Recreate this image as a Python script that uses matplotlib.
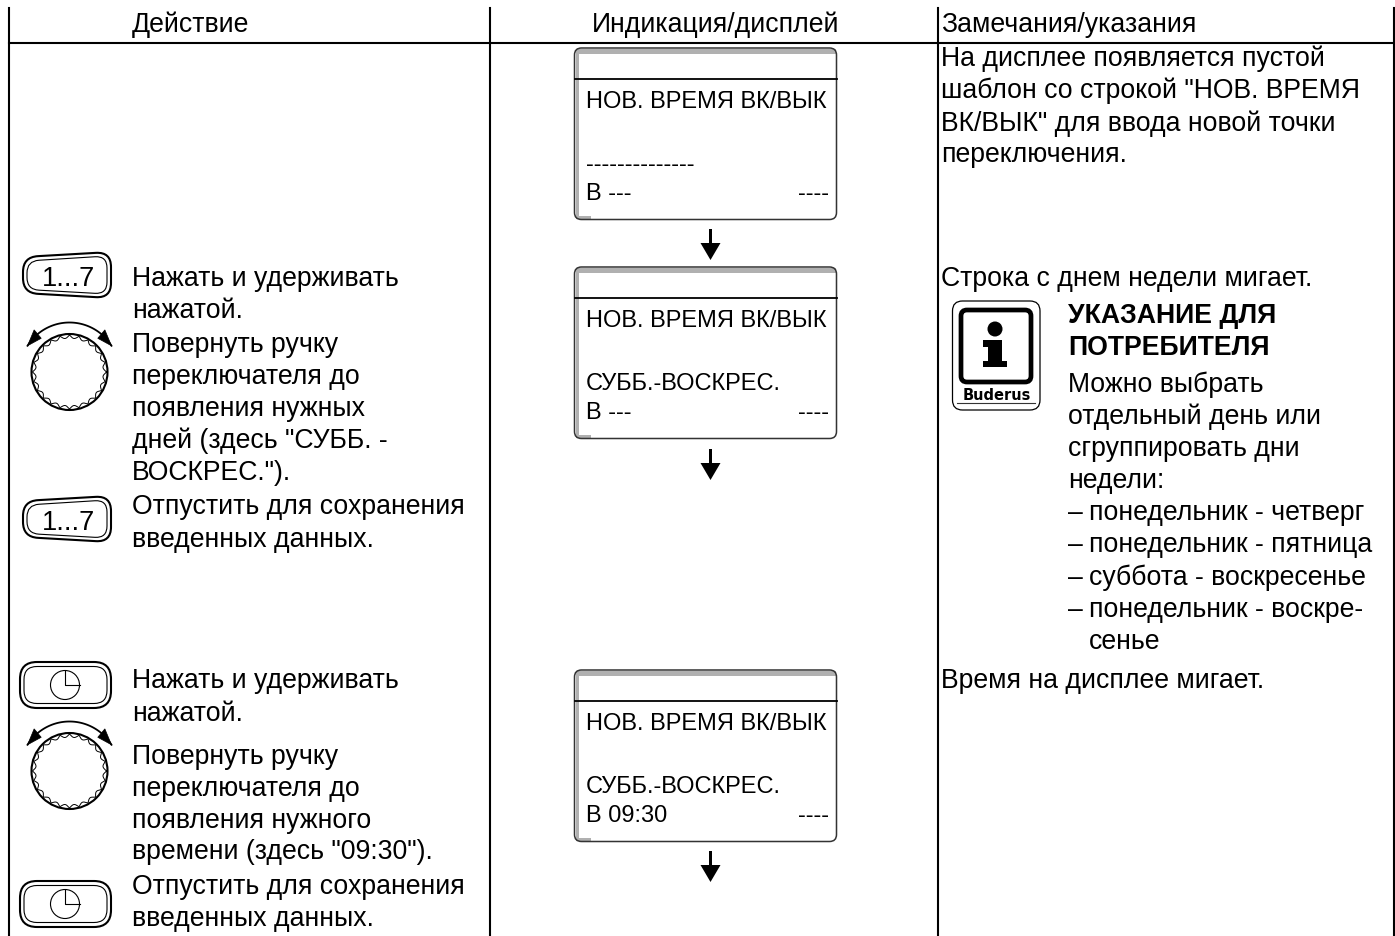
import matplotlib.pyplot as plt
from matplotlib.patches import FancyBboxPatch, Circle, Rectangle, Polygon, PathPatch
from matplotlib.path import Path
import numpy as np

plt.rcParams['font.family'] = ['Liberation Sans', 'DejaVu Sans']

headers = ['Действие', 'Индикация/дисплей', 'Замечания/указания']

action_lines = ['Нажать и удерживать', 'нажатой.', 'Повернуть ручку', 'переключателя до',
                'появления нужных', 'дней (здесь "СУББ. -', 'ВОСКРЕС.").',
                'Отпустить для сохранения', 'введенных данных.',
                'Нажать и удерживать', 'нажатой.', 'Повернуть ручку', 'переключателя до',
                'появления нужного', 'времени (здесь "09:30").',
                'Отпустить для сохранения', 'введенных данных.']
action_y = [286, 318, 352, 384, 416, 448, 480, 514, 547,
            688, 721, 764, 796, 828, 859, 894, 926]

note_lines = ['На дисплее появляется пустой', 'шаблон со строкой "НОВ. ВРЕМЯ',
              'ВК/ВЫК" для ввода новой точки', 'переключения.',
              'Строка с днем недели мигает.', 'Время на дисплее мигает.']
note_y = [66, 98, 131, 162, 286, 688]

tip_head = ['УКАЗАНИЕ ДЛЯ', 'ПОТРЕБИТЕЛЯ']
tip_head_y = [323, 355]
tip_lines = ['Можно выбрать', 'отдельный день или', 'сгруппировать дни', 'недели:']
tip_y = [392, 424, 456, 488]
tip_list = ['понедельник - четверг', 'понедельник - пятница', 'суббота - воскресенье',
            'понедельник - воскре-', 'сенье']
tip_list_y = [520, 552, 585, 617, 649]
tip_dash = [True, True, True, True, False]

display_top = [48, 267, 670]
display_title = 'НОВ. ВРЕМЯ ВК/ВЫК'
display_mid = ['--------------', 'СУББ.-ВОСКРЕС.', 'СУББ.-ВОСКРЕС.']
display_left = ['В ---', 'В ---', 'В 09:30']
display_right = ['----', '----', '----']

arrow_top = [229, 449, 851]
key_17_y = [275, 519]
key_clock_y = [685, 904]
knob_y = [372, 771]

FS = 19.2
FS_DISPLAY = 17
fig = plt.figure(figsize=(13.95, 9.36), dpi=100)
ax = fig.add_axes([0, 0, 1, 1])
ax.set_xlim(0, 1395)
ax.set_ylim(936, 0)
ax.axis('off')

# table rules
ax.plot([8.5, 1393.5], [42.5, 42.5], color='k', lw=1.5)
for x in [8.5, 489.5, 937.5, 1393.5]:
    ax.plot([x, x], [8, 936], color='k', lw=1.5)

ax.text(132, 32, headers[0], fontsize=FS)
ax.text(592, 32, headers[1], fontsize=FS)
ax.text(941, 32, headers[2], fontsize=FS)


def rounded_poly(pts, r, lw):
    # closed outline with rounded corners
    pts = np.array(pts, dtype=float)
    verts, codes = [], []
    n = len(pts)
    for i in range(n):
        p, a, b = pts[i], pts[i - 1], pts[(i + 1) % n]
        s = p + (a - p) / np.linalg.norm(a - p) * r
        e = p + (b - p) / np.linalg.norm(b - p) * r
        verts += [s, p, e]
        codes += [Path.MOVETO if i == 0 else Path.LINETO, Path.CURVE3, Path.CURVE3]
    verts.append(verts[0])
    codes.append(Path.CLOSEPOLY)
    ax.add_patch(PathPatch(Path(verts, codes), fc='none', ec='k', lw=lw))


def key_17(yc):
    rounded_poly([(23, yc - 18), (111, yc - 23), (111, yc + 23), (23, yc + 18)], 15, 1.5)
    rounded_poly([(27, yc - 14), (107, yc - 19), (107, yc + 19), (27, yc + 14.5)], 12, 0.8)
    ax.text(68, yc + 10.5, '1...7', fontsize=19.6, ha='center')


def key_clock(yc):
    rounded_poly([(20, yc - 23), (111, yc - 23), (111, yc + 23), (20, yc + 23)], 17, 1.5)
    rounded_poly([(24, yc - 18.5), (107, yc - 18.5), (107, yc + 18.5), (24, yc + 18.5)], 13, 0.8)
    ax.add_patch(Circle((65, yc), 14.5, fc='none', ec='k', lw=0.8))
    ax.plot([65, 65, 79.5], [yc - 14.5, yc, yc], color='k', lw=0.8)


def knob(yc):
    xc = 69.5
    ax.add_patch(Circle((xc, yc), 38, fc='none', ec='k', lw=1.5))
    t = np.linspace(0, 2 * np.pi, 721)
    r = 37 - 3.2 * np.abs(np.sin(12 * t))
    ax.plot(xc + r * np.cos(t), yc + r * np.sin(t), color='k', lw=0.7)
    t = np.radians(np.linspace(212, 328, 60))
    ax.plot(xc + 49.5 * np.cos(t), yc + 49.5 * np.sin(t), color='k', lw=1.3)
    for tip, base in [(212, 230), (328, 310)]:
        a, b = np.radians(tip), np.radians(base)
        head = [(xc + 49.5 * np.cos(a), yc + 49.5 * np.sin(a)),
                (xc + 44 * np.cos(b), yc + 44 * np.sin(b)),
                (xc + 55 * np.cos(b), yc + 55 * np.sin(b))]
        ax.add_patch(Polygon(head, fc='k', ec='k', lw=0.5))


def display(top, mid, left, right):
    x0, x1 = 574.5, 836.5
    h = 171.5
    gray = '#b0b0b0'
    ax.add_patch(Rectangle((x0 + 1, top + 1), 3.5, h - 2, fc=gray, ec='none'))
    ax.add_patch(Rectangle((x0 + 1, top + 1), x1 - x0 - 2, 4.5, fc=gray, ec='none'))
    ax.add_patch(Rectangle((x0 + 1, top + h - 4), 15, 3, fc=gray, ec='none'))
    ax.add_patch(FancyBboxPatch((x0, top), x1 - x0, h, boxstyle='round,pad=0,rounding_size=7',
                                fc='none', ec='#333333', lw=1.1))
    ax.plot([x0, x1], [top + 31, top + 31], color='k', lw=1.3)
    ax.text(586, top + 60, display_title, fontsize=FS_DISPLAY)
    ax.text(586, top + 123, mid, fontsize=FS_DISPLAY)
    ax.text(586, top + 152, left, fontsize=FS_DISPLAY)
    ax.text(829, top + 152, right, fontsize=FS_DISPLAY, ha='right')


for y in key_17_y:
    key_17(y)
for y in key_clock_y:
    key_clock(y)
for y in knob_y:
    knob(y)
for t, m, l, r in zip(display_top, display_mid, display_left, display_right):
    display(t, m, l, r)

for y in arrow_top:
    ax.add_patch(Rectangle((708.7, y), 3.4, 15, fc='k', ec='none'))
    ax.add_patch(Polygon([(700.5, y + 14), (720.5, y + 14), (710.5, y + 31)], fc='k', ec='none'))

for s, y in zip(action_lines, action_y):
    ax.text(132, y, s, fontsize=FS)
for s, y in zip(note_lines, note_y):
    ax.text(941, y, s, fontsize=FS)
for s, y in zip(tip_head, tip_head_y):
    ax.text(1068, y, s, fontsize=FS, fontweight='bold')
for s, y in zip(tip_lines, tip_y):
    ax.text(1068, y, s, fontsize=FS)
for s, y, d in zip(tip_list, tip_list_y, tip_dash):
    if d:
        ax.text(1068, y, '–', fontsize=FS)
    ax.text(1089, y, s, fontsize=FS)

# info symbol
ax.add_patch(FancyBboxPatch((952.5, 301), 87.5, 109, boxstyle='round,pad=0,rounding_size=10',
                            fc='none', ec='k', lw=0.9))
ax.add_patch(FancyBboxPatch((961, 310), 70, 72, boxstyle='round,pad=0,rounding_size=6',
                            fc='none', ec='k', lw=3.4))
ax.add_patch(Circle((995, 329), 7.5, fc='k', ec='none'))
ax.add_patch(Rectangle((988, 340), 14, 25, fc='k', ec='none'))
ax.add_patch(Rectangle((983, 340), 10, 7, fc='k', ec='none'))
ax.add_patch(Rectangle((983, 361), 24, 6, fc='k', ec='none'))
ax.text(996.5, 399.5, 'Buderus', fontsize=10.5, fontweight='bold', ha='center',
        family=['DejaVu Sans'])
ax.plot([957, 1035], [402.5, 402.5], color='#333333', lw=0.8)

fig.savefig('out.png', dpi=100)
